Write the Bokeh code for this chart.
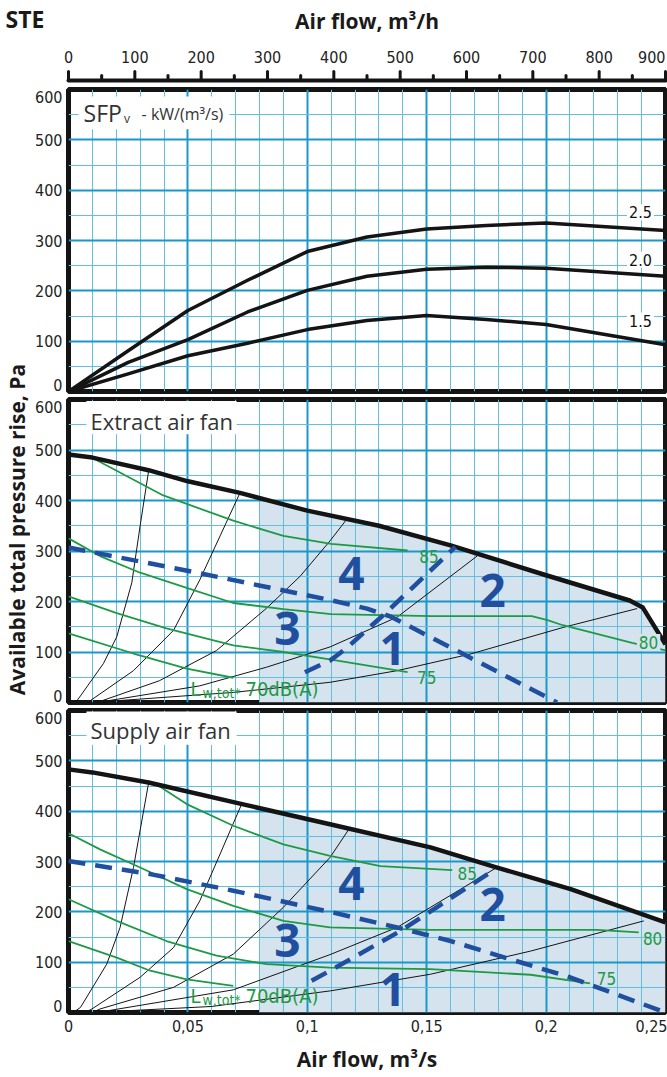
import numpy as np
from bokeh.plotting import figure
from bokeh.models import Range1d, FixedTicker, Label, BoxAnnotation
from bokeh.layouts import column, row
from bokeh.embed import file_html
from bokeh.resources import INLINE
from bokeh.core.properties import value

# ---------------- ticks / labels ----------------
flow_s_ticks = [0, 0.05, 0.1, 0.15, 0.2, 0.25]
flow_s_labels = ["0", "0,05", "0,1", "0,15", "0,2", "0,25"]
flow_h_ticks = [0, 100, 200, 300, 400, 500, 600, 700, 800, 900]
flow_h_labels = ["0", "100", "200", "300", "400", "500", "600", "700", "800", "900"]
flow_h_minor = [50, 150, 250, 350, 450, 550, 650, 750, 850]
pa_ticks = [0, 100, 200, 300, 400, 500, 600]
pa_labels = ["0", "100", "200", "300", "400", "500", "600"]

# ---------------- SFP panel ----------------
sfp_x = [0, 0.025, 0.05, 0.075, 0.1, 0.125, 0.15, 0.175, 0.2, 0.25]
sfp25_y = [0, 81, 161, 221, 278, 307, 323, 330, 335, 320]
sfp20_y = [0, 58, 103, 158, 201, 229, 243, 247, 245, 229]
sfp15_y = [0, 35, 71, 96, 123, 141, 151, 143, 133, 93]
sfp_names = ["2.5", "2.0", "1.5"]

# ---------------- Extract air fan ----------------
ext_fan_x = [0, 0.01, 0.0335, 0.05, 0.0718, 0.1, 0.13, 0.16, 0.2, 0.235, 0.2405, 0.25]
ext_fan_y = [491, 485, 460, 438, 415, 380, 350, 311, 252, 202, 188, 115]
ext_85_x = [0.0097, 0.0397, 0.069, 0.09, 0.11, 0.142]
ext_85_y = [485, 410, 360, 330, 314, 301]
ext_80_x = [0, 0.0132, 0.03, 0.0495, 0.069, 0.09, 0.11, 0.152, 0.194, 0.2006, 0.207, 0.236, 0.25]
ext_80_y = [325, 290, 257, 227, 197, 185, 175, 171, 171, 163, 153, 118, 103]
ext_75_x = [0, 0.0202, 0.041, 0.069, 0.09, 0.11, 0.142]
ext_75_y = [210, 177, 147, 113, 100, 85, 60]
ext_70_x = [0, 0.0272, 0.0495, 0.069]
ext_70_y = [137, 97, 67, 49]
ext_sys1_x = [0.003, 0.005, 0.0146, 0.0202, 0.0265, 0.03, 0.0335]
ext_sys1_y = [0, 13, 77, 130, 237, 350, 457]
ext_sys2_x = [0.008, 0.0272, 0.044, 0.055, 0.0635, 0.0718]
ext_sys2_y = [0, 63, 143, 243, 330, 415]
ext_sys3_x = [0.0119, 0.038, 0.062, 0.083, 0.097, 0.1095, 0.1167]
ext_sys3_y = [0, 43, 103, 187, 250, 320, 364]
ext_sys4_x = [0.012, 0.055, 0.083, 0.1095, 0.1376, 0.1711]
ext_sys4_y = [0, 33, 70, 110, 169, 290]
ext_sys5_x = [0.01, 0.069, 0.1095, 0.1376, 0.1683, 0.2074, 0.2381]
ext_sys5_y = [0, 20, 40, 63, 96, 149, 186]
ext_d1_x = [0, 0.055, 0.1095, 0.125, 0.135, 0.2046]
ext_d1_y = [307, 256, 203, 186, 170, 0]
ext_d2_x = [0.099, 0.1095, 0.116, 0.133, 0.162]
ext_d2_y = [60, 83, 106, 178, 308]

# ---------------- Supply air fan ----------------
sup_fan_x = [0, 0.01, 0.0335, 0.0718, 0.1095, 0.1516, 0.1795, 0.2103, 0.25]
sup_fan_y = [483, 477, 457, 415, 374, 328, 288, 245, 179]
sup_85_x = [0.0356, 0.0495, 0.069, 0.09, 0.1095, 0.1307, 0.1607]
sup_85_y = [457, 414, 371, 334, 311, 291, 283]
sup_80_x = [0, 0.0132, 0.03, 0.0495, 0.069, 0.09, 0.1095, 0.1516, 0.1935, 0.2214, 0.2388]
sup_80_y = [356, 324, 288, 245, 212, 182, 169, 164, 164, 164, 159]
sup_75_x = [0, 0.0202, 0.041, 0.062, 0.083, 0.1095, 0.1516, 0.1935, 0.2184]
sup_75_y = [225, 182, 142, 113, 96, 89, 86, 75, 58]
sup_70_x = [0, 0.0202, 0.0342, 0.0495, 0.069]
sup_70_y = [142, 109, 83, 66, 53]
sup_sys1_x = [0.002, 0.005, 0.016, 0.0216, 0.0272, 0.0335]
sup_sys1_y = [0, 10, 96, 169, 288, 455]
sup_sys2_x = [0.007, 0.0098, 0.03, 0.044, 0.055, 0.0635, 0.0725]
sup_sys2_y = [0, 7, 70, 129, 222, 315, 414]
sup_sys3_x = [0.01, 0.0132, 0.044, 0.069, 0.09, 0.1095, 0.1174]
sup_sys3_y = [0, 7, 50, 116, 209, 308, 364]
sup_sys4_x = [0.012, 0.069, 0.1095, 0.1376, 0.18]
sup_sys4_y = [0, 45, 115, 169, 290]
sup_sys5_x = [0.01, 0.06, 0.1097, 0.1516, 0.1935, 0.2409]
sup_sys5_y = [0, 12, 43, 76, 122, 182]
sup_d1_x = [0, 0.0342, 0.069, 0.1095, 0.1376, 0.16, 0.18, 0.21, 0.25]
sup_d1_y = [301, 275, 242, 200, 169, 142, 113, 70, 0]
sup_d2_x = [0.1018, 0.1095, 0.139, 0.1788]
sup_d2_y = [63, 83, 162, 285]

# ---------------- styles / geometry ----------------
GRID_MAJOR = "#1b98c9"
GRID_MINOR = "#62bfe0"
SHADE = "#d4e3ee"
GREEN = "#1e9a46"
BLUE = "#1f4f9e"
BLACK = "#141414"
TXT = "#333333"
SANS = "Open Sans"
NARROW = "DejaVu Sans Condensed"
SHADE_FROM = 0.08

TOTAL_W = 667
LABEL_W = 30
FRAME_L = 68          # frame left edge from page left
FRAME_R = 2
FRAME_W = TOTAL_W - FRAME_L - FRAME_R
PX_PER_S = FRAME_W / flow_s_ticks[-1]       # px per m3/s
PX_PER_H = FRAME_W / flow_h_ticks[-1]       # px per m3/h
END_PAD_PX = 7        # inward shift of the end tick labels

minor_x = [i / 100 for i in range(1, 25) if i % 5]
minor_y = [50, 150, 250, 350, 450, 550]


def txt(p, x, y, text, size, color, font=SANS, style="normal", align="left",
        baseline="alphabetic", bg=None, angle=0.0):
    lab = Label(x=x, y=y, text=text, text_font_size=size, text_color=color,
                text_font=font, text_font_style=style, text_align=align,
                text_baseline=baseline, angle=angle)
    if bg is not None:
        lab.background_fill_color = bg
        lab.padding = 2
    p.add_layout(lab)


def panel(height, mbt, mbb, xaxis=False):
    frame_h = height - mbt - mbb
    p = figure(width=TOTAL_W - LABEL_W, height=height, x_range=Range1d(0, 0.25),
               y_range=Range1d(0, 600),
               toolbar_location=None, output_backend="svg",
               x_axis_location="below" if xaxis else None,
               min_border_left=FRAME_L - LABEL_W, min_border_right=FRAME_R,
               min_border_top=mbt, min_border_bottom=mbb,
               background_fill_color="white", border_fill_color="white",
               outline_line_color=BLACK, outline_line_width=5)
    pad = END_PAD_PX * 600 / frame_h
    pos = [pa_ticks[0] + pad] + pa_ticks[1:-1] + [pa_ticks[-1] - pad]
    yax = p.yaxis[0]
    yax.ticker = FixedTicker(ticks=pos)
    yax.major_label_overrides = dict(zip(pos, pa_labels))
    yax.axis_line_color = None
    yax.major_tick_line_color = None
    yax.minor_tick_line_color = None
    yax.major_tick_out = 0
    yax.major_tick_in = 0
    yax.major_label_standoff = 6
    yax.major_label_text_font = NARROW
    yax.major_label_text_font_size = "16px"
    yax.major_label_text_color = "#222222"
    p.xgrid.ticker = FixedTicker(ticks=[0.05, 0.1, 0.15, 0.2], minor_ticks=minor_x)
    p.ygrid.ticker = FixedTicker(ticks=[100, 200, 300, 400, 500], minor_ticks=minor_y)
    for g in (p.xgrid[0], p.ygrid[0]):
        g.grid_line_color = GRID_MAJOR
        g.grid_line_width = 2
        g.minor_grid_line_color = GRID_MINOR
        g.minor_grid_line_width = 1
    return p


def fan_panel(p, fan_x, fan_y, systems, greens, d1, d2):
    xs = [SHADE_FROM] + [x for x in fan_x if x > SHADE_FROM]
    ys = list(np.interp(xs, fan_x, fan_y))
    p.varea(x=xs, y1=[0] * len(xs), y2=ys, fill_color=SHADE, level="image")
    for sx, sy in systems:
        p.line(sx, sy, line_color=BLACK, line_width=1)
    for gx, gy in greens:
        p.line(gx, gy, line_color=GREEN, line_width=1.8)
    p.line(fan_x, fan_y, line_color=BLACK, line_width=4.5, line_join="round")
    for dx, dy in (d1, d2):
        p.line(dx, dy, line_color=BLUE, line_width=4.5, line_dash="17 10")


# ---------------- header (top axis, m3/h), drawn inside its own frame ----------------
HDR_H = 86
AXIS_Y = 6            # axis line height above header bottom
hdr = figure(width=TOTAL_W, height=HDR_H,
             x_range=Range1d(-FRAME_L / PX_PER_H, flow_h_ticks[-1] + FRAME_R / PX_PER_H),
             y_range=Range1d(0, HDR_H),
             toolbar_location=None, output_backend="svg", min_border=0,
             x_axis_location=None, y_axis_location=None, outline_line_color=None,
             background_fill_color="white", border_fill_color="white")
hdr.grid.visible = False
hdr.line([flow_h_ticks[0], flow_h_ticks[-1]], [AXIS_Y, AXIS_Y], line_color=BLACK,
         line_width=4, line_cap="round")
hdr.segment(x0=flow_h_ticks, y0=[AXIS_Y] * len(flow_h_ticks), x1=flow_h_ticks,
            y1=[AXIS_Y + 9] * len(flow_h_ticks), line_color=BLACK, line_width=3, line_cap="round")
hdr.segment(x0=flow_h_minor, y0=[AXIS_Y] * len(flow_h_minor), x1=flow_h_minor,
            y1=[AXIS_Y + 5] * len(flow_h_minor), line_color=BLACK, line_width=3, line_cap="round")
hdr.text(x=flow_h_ticks[:-1], y=[AXIS_Y + 18] * (len(flow_h_ticks) - 1), text=flow_h_labels[:-1],
         text_font=value(NARROW), text_font_size="16px", text_color="#222222",
         text_align="center", text_baseline="bottom")
hdr.text(x=[flow_h_ticks[-1]], y=[AXIS_Y + 18], text=[flow_h_labels[-1]],
         text_font=value(NARROW), text_font_size="16px", text_color="#222222",
         text_align="right", text_baseline="bottom")
txt(hdr, flow_h_ticks[-1] / 2, 66, "Air flow, m³/h", "21px", "#1a1a1a", style="bold", align="center")
txt(hdr, (5 - FRAME_L) / PX_PER_H, 68, "STE", "23px", "#1a1a1a", style="bold")

# ---------------- top panel (SFP) ----------------
top = panel(310, 3, 5)
for ys, name, ly in zip((sfp25_y, sfp20_y, sfp15_y), sfp_names, (356, 262, 141)):
    top.line(sfp_x, ys, line_color=BLACK, line_width=3.5, line_join="round")
    txt(top, 0.2395, ly, name, "16px", "#111111", font=NARROW, align="center",
        baseline="middle", bg="white")
top.add_layout(BoxAnnotation(left=0.0042, right=0.0674, bottom=521, top=586,
                             fill_color="white", fill_alpha=1, line_alpha=0))
txt(top, 0.0063, 553, "SFP", "23px", TXT)
txt(top, 0.0232, 542, "v", "12px", TXT)
txt(top, 0.0306, 551, "- kW/(m³/s)", "16px", TXT)

# ---------------- middle panel (extract) ----------------
mid = panel(310, 3, 4)
fan_panel(mid, ext_fan_x, ext_fan_y,
          [(ext_sys1_x, ext_sys1_y), (ext_sys2_x, ext_sys2_y), (ext_sys3_x, ext_sys3_y),
           (ext_sys4_x, ext_sys4_y), (ext_sys5_x, ext_sys5_y)],
          [(ext_85_x, ext_85_y), (ext_80_x, ext_80_y), (ext_75_x, ext_75_y), (ext_70_x, ext_70_y)],
          (ext_d1_x, ext_d1_y), (ext_d2_x, ext_d2_y))
mid.add_layout(BoxAnnotation(left=0.0075, right=0.0704, bottom=531, top=597,
                             fill_color="white", fill_alpha=1, line_alpha=0))
txt(mid, 0.0092, 558, "Extract air fan", "22px", TXT)
txt(mid, 0.151, 290, "85", "17px", GREEN, font=NARROW, align="center", baseline="middle")
txt(mid, 0.2429, 119, "80", "17px", GREEN, font=NARROW, align="center", baseline="middle", bg=SHADE)
txt(mid, 0.150, 50, "75", "17px", GREEN, font=NARROW, align="center", baseline="middle")
txt(mid, 0.0511, 27, "L", "20px", GREEN, font=NARROW)
txt(mid, 0.0561, 19, "w,tot*", "14px", GREEN, font=NARROW)
txt(mid, 0.0741, 27, "70dB(A)", "20px", GREEN, font=NARROW)
for d, x, y in (("4", 0.1185, 256), ("2", 0.1776, 222), ("1", 0.1357, 107), ("3", 0.0917, 147)):
    txt(mid, x, y, d, "46px", BLUE, style="bold", align="center")

# ---------------- bottom panel (supply) ----------------
bot = panel(371, 4, 65, xaxis=True)
fan_panel(bot, sup_fan_x, sup_fan_y,
          [(sup_sys1_x, sup_sys1_y), (sup_sys2_x, sup_sys2_y), (sup_sys3_x, sup_sys3_y),
           (sup_sys4_x, sup_sys4_y), (sup_sys5_x, sup_sys5_y)],
          [(sup_85_x, sup_85_y), (sup_80_x, sup_80_y), (sup_75_x, sup_75_y), (sup_70_x, sup_70_y)],
          (sup_d1_x, sup_d1_y), (sup_d2_x, sup_d2_y))
bot.add_layout(BoxAnnotation(left=0.0075, right=0.0704, bottom=532, top=598,
                             fill_color="white", fill_alpha=1, line_alpha=0))
txt(bot, 0.0092, 561, "Supply air fan", "22px", TXT)
txt(bot, 0.167, 277, "85", "17px", GREEN, font=NARROW, align="center", baseline="middle")
txt(bot, 0.2446, 148, "80", "17px", GREEN, font=NARROW, align="center", baseline="middle")
txt(bot, 0.2253, 68, "75", "17px", GREEN, font=NARROW, align="center", baseline="middle")
txt(bot, 0.0511, 33, "L", "20px", GREEN, font=NARROW)
txt(bot, 0.0561, 25, "w,tot*", "14px", GREEN, font=NARROW)
txt(bot, 0.0741, 33, "70dB(A)", "20px", GREEN, font=NARROW)
for d, x, y in (("4", 0.1185, 257), ("2", 0.1776, 214), ("1", 0.1357, 45), ("3", 0.0917, 143)):
    txt(bot, x, y, d, "46px", BLUE, style="bold", align="center")

xpos = flow_s_ticks[:-1] + [flow_s_ticks[-1] - 2 * END_PAD_PX / PX_PER_S]
bx = bot.xaxis[0]
bx.ticker = FixedTicker(ticks=xpos)
bx.major_label_overrides = dict(zip(xpos, flow_s_labels))
bx.axis_line_color = None
bx.major_tick_line_color = None
bx.minor_tick_line_color = None
bx.major_tick_out = 0
bx.major_tick_in = 0
bx.major_label_standoff = 7
bx.major_label_text_font = NARROW
bx.major_label_text_font_size = "16px"
bx.major_label_text_color = "#222222"
bx.axis_label = "Air flow, m³/s"
bx.axis_label_text_font = SANS
bx.axis_label_text_font_style = "bold"
bx.axis_label_text_font_size = "21px"
bx.axis_label_text_color = "#1a1a1a"
bx.axis_label_standoff = 10

# ---------------- rotated y-axis title ----------------
lab = figure(width=LABEL_W, height=991, x_range=Range1d(0, LABEL_W), y_range=Range1d(0, 991),
             toolbar_location=None, output_backend="svg", min_border=0,
             x_axis_location=None, y_axis_location=None, outline_line_color=None,
             background_fill_color="white", border_fill_color="white")
lab.grid.visible = False
txt(lab, 16, 548, "Available total pressure rise, Pa", "21px", "#1a1a1a",
    style="bold", align="center", baseline="middle", angle=np.pi / 2)

layout = column(hdr, row(lab, column(top, mid, bot)))
open("out.html", "w").write(file_html(layout, INLINE))
